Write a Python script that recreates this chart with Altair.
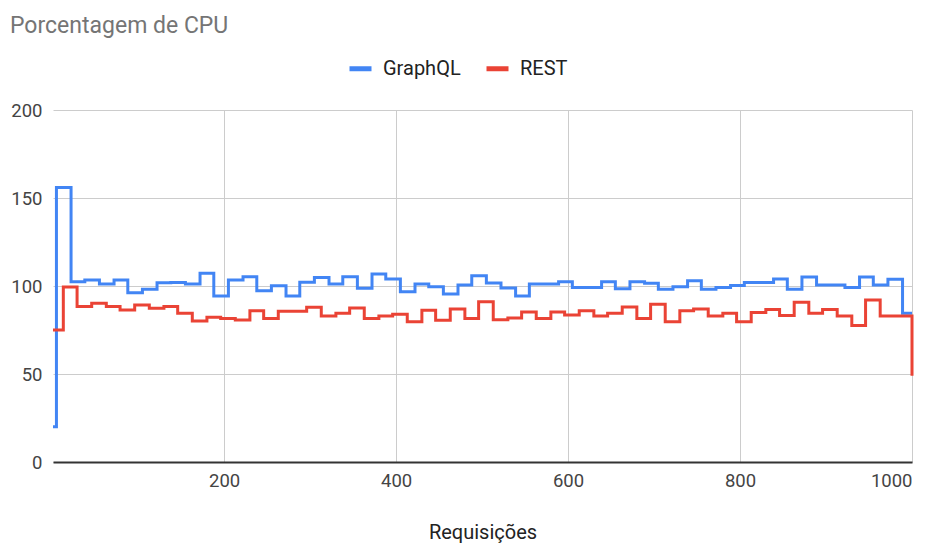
import altair as alt
import pandas as pd

# GraphQL series: step start positions (requests) and CPU %
graphql_x = [1, 5, 22, 38, 55, 72, 88, 105, 122, 138, 155, 172, 188, 205, 222, 238,
             255, 272, 288, 305, 322, 338, 355, 372, 388, 405, 422, 438, 455, 472,
             488, 505, 522, 539, 555, 572, 589, 605, 622, 639, 655, 672, 689, 705,
             722, 739, 755, 772, 789, 805, 822, 839, 855, 872, 889, 905, 922, 939,
             955, 972, 989, 1000]
graphql_y = [20, 156, 102.4, 103.4, 101.1, 103.4, 96.2, 98.1, 101.9, 102, 101.1,
             107.2, 94.3, 103.4, 105.3, 97.3, 100.2, 94.3, 102.1, 104.9, 101.1,
             105.3, 98.7, 106.8, 104, 96.8, 101.1, 99.6, 95.5, 100.5, 105.8, 101.7,
             98.8, 94.3, 101.1, 101.1, 102.4, 99.2, 99.2, 102.4, 98.4, 102.4, 101.5,
             98.1, 99.6, 103, 98.1, 99.2, 100.3, 102, 102, 104, 98.2, 105.1, 100.6,
             100.6, 99.2, 105.1, 100.6, 103.9, 84.5, 84.5]

# REST series
rest_x = [1, 13, 29, 46, 63, 79, 96, 113, 130, 146, 163, 180, 196, 213, 230, 246,
          263, 280, 296, 313, 330, 346, 363, 380, 396, 413, 430, 446, 463, 480,
          496, 513, 530, 546, 563, 580, 596, 613, 630, 646, 663, 680, 696, 713,
          730, 746, 763, 780, 796, 813, 830, 846, 863, 880, 896, 913, 930, 946,
          963, 980, 1000]
rest_y = [75, 99.5, 88.3, 90.2, 88.3, 86.4, 89.2, 87.3, 88.3, 84.5, 80.1, 82.2,
          81.6, 80.7, 86, 81.6, 85.6, 85.6, 87.9, 83, 84.5, 87.5, 81.6, 83, 84,
          79.7, 86.2, 80.5, 87, 81.6, 91.1, 80.8, 81.8, 85.2, 81.6, 85.2, 83.5,
          86, 83, 84.5, 88.1, 81.6, 89.7, 79.7, 86, 86.9, 83, 84.5, 79.7, 85,
          86.7, 83.2, 90.8, 84.5, 86.6, 83, 77.5, 92, 83, 83, 49]

series_names = ["GraphQL", "REST"]
series_colors = ["#4285F4", "#EA4335"]

df = pd.concat([
    pd.DataFrame({"Requisições": graphql_x, "CPU": graphql_y, "Série": "GraphQL"}),
    pd.DataFrame({"Requisições": rest_x, "CPU": rest_y, "Série": "REST"}),
], ignore_index=True)

FONT = "Roboto"

chart = alt.Chart(df).mark_line(
    interpolate="step-after", strokeWidth=3
).encode(
    x=alt.X("Requisições:Q",
            scale=alt.Scale(domain=[1, 1000], nice=False, zero=False),
            axis=alt.Axis(values=[200, 400, 600, 800, 1000], title="Requisições",
                          format="d",
                          labelFontSize=18.5, labelColor="#444444", labelFont=FONT,
                          labelPadding=9, tickSize=0, domain=True,
                          domainColor="#333333", domainWidth=2,
                          gridColor="#cccccc", gridWidth=1,
                          titleFont=FONT, titleFontSize=20, titleFontWeight="normal",
                          titleColor="#222222", titlePadding=33)),
    y=alt.Y("CPU:Q",
            scale=alt.Scale(domain=[0, 200], nice=False),
            axis=alt.Axis(values=[0, 50, 100, 150, 200], title=None,
                          labelFontSize=18.5, labelColor="#444444", labelFont=FONT,
                          labelPadding=11, tickSize=0, domain=False,
                          gridColor="#cccccc", gridWidth=1)),
    color=alt.Color("Série:N",
                    scale=alt.Scale(domain=series_names, range=series_colors),
                    legend=alt.Legend(title=None, orient="none", direction="horizontal",
                                      legendX=294, legendY=-55,
                                      symbolType="stroke", symbolSize=484,
                                      symbolStrokeWidth=5, labelFont=FONT,
                                      labelFontSize=20, labelColor="#222222",
                                      labelOffset=9, columnPadding=15, padding=0)),
    order=alt.Order("Requisições:Q"),
).properties(
    width=859,
    height=352,
    background="white",
    title=alt.TitleParams("Porcentagem de CPU", anchor="start", frame="group",
                          font=FONT, fontSize=23, fontWeight="normal",
                          color="#757575", dx=-43, dy=-17, offset=0),
    autosize=alt.AutoSizeParams(type="none"),
    padding={"left": 53, "top": 110, "right": 24, "bottom": 85},
).configure_view(stroke=None)

chart.save("out.html", embed_options={"renderer": "svg", "actions": False})
